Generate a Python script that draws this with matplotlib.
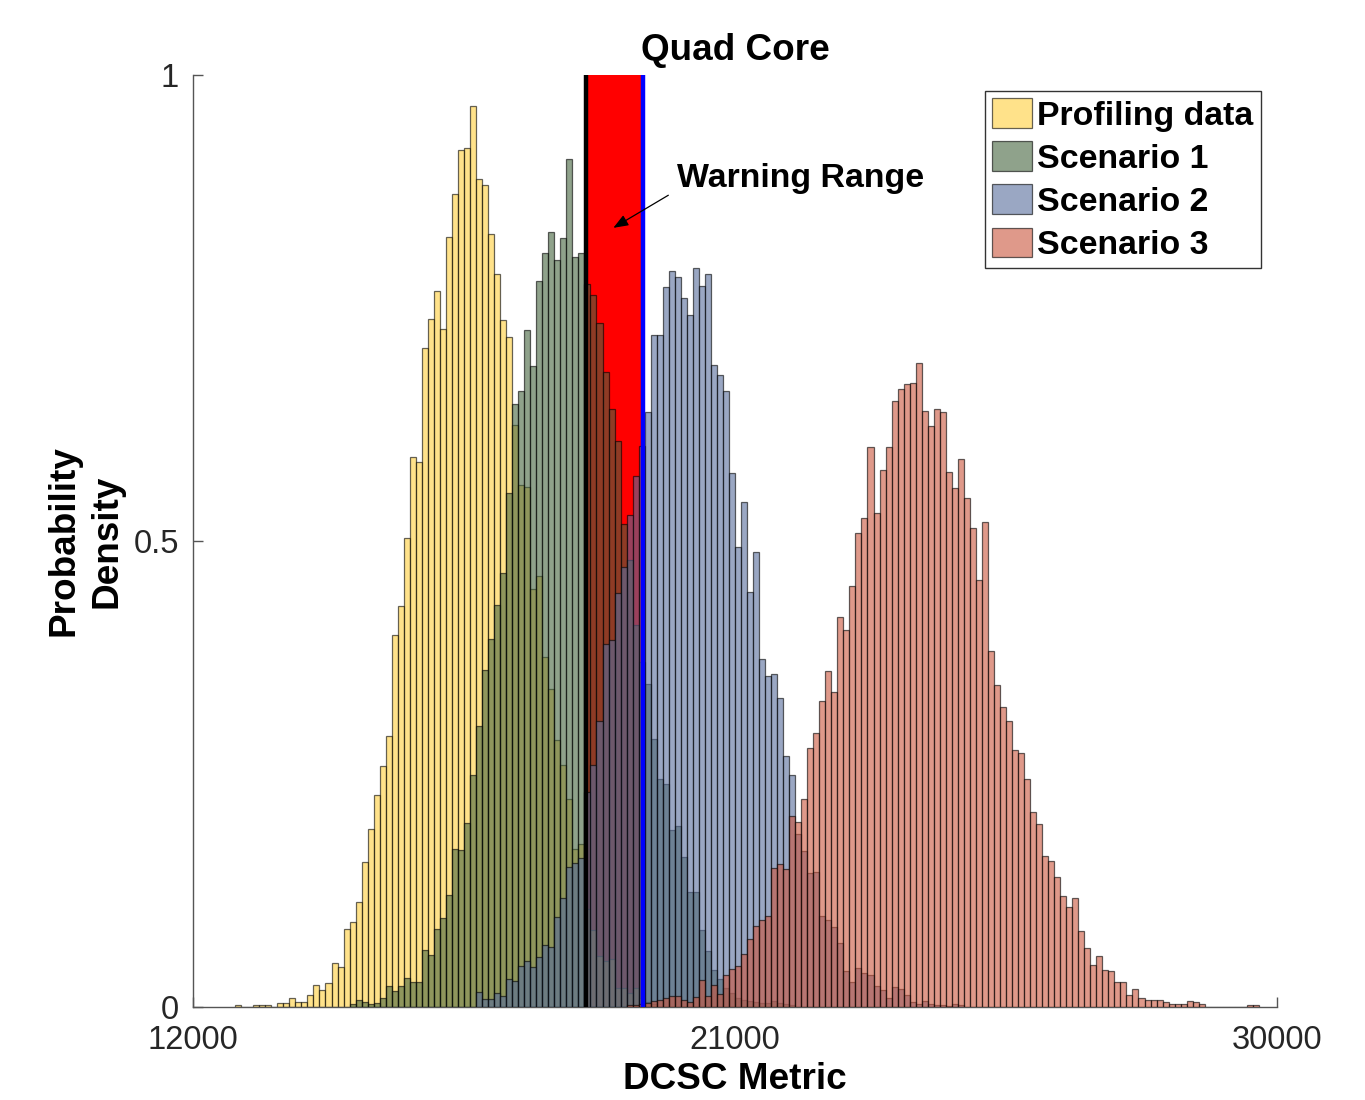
import numpy as np
import matplotlib
matplotlib.use("Agg")
import matplotlib.pyplot as plt
from matplotlib.patches import Rectangle

plt.rcParams['font.family'] = ['Liberation Sans', 'DejaVu Sans']

# ---------------- data (bin width 100, heights) -------------
bin_width = 100

profiling_start = 12700
profiling = [0.002, 0.0, 0.0, 0.002, 0.002, 0.002, 0.0, 0.004, 0.004, 0.010,
             0.005, 0.005, 0.013, 0.024, 0.018, 0.026, 0.047, 0.043, 0.084, 0.091,
             0.113, 0.156, 0.191, 0.228, 0.259, 0.291, 0.399, 0.430, 0.503, 0.590,
             0.585, 0.707, 0.738, 0.768, 0.727, 0.826, 0.872, 0.919, 0.922, 0.967,
             0.888, 0.882, 0.829, 0.787, 0.737, 0.719, 0.625, 0.560, 0.558, 0.449,
             0.462, 0.376, 0.341, 0.286, 0.260, 0.223, 0.170, 0.175, 0.105, 0.083,
             0.055, 0.049, 0.052, 0.020, 0.020, 0.015, 0.020, 0.010, 0.005, 0.003]

scenario1_start = 14600
scenario1 = [0.003, 0.008, 0.005, 0.003, 0.004, 0.010, 0.023, 0.017, 0.023, 0.031,
             0.027, 0.027, 0.061, 0.056, 0.084, 0.096, 0.120, 0.170, 0.168, 0.197,
             0.249, 0.302, 0.362, 0.395, 0.431, 0.466, 0.551, 0.647, 0.661, 0.726,
             0.688, 0.779, 0.809, 0.832, 0.801, 0.825, 0.910, 0.805, 0.809, 0.776,
             0.764, 0.734, 0.681, 0.642, 0.607, 0.518, 0.480, 0.410, 0.370, 0.347,
             0.288, 0.245, 0.239, 0.190, 0.194, 0.161, 0.123, 0.123, 0.083, 0.060,
             0.040, 0.030, 0.020, 0.015, 0.010, 0.008, 0.006, 0.005, 0.004, 0.004,
             0.006, 0.004, 0.003, 0.002]

scenario2_start = 16700
scenario2 = [0.016, 0.009, 0.009, 0.015, 0.012, 0.030, 0.028, 0.044, 0.049, 0.043,
             0.054, 0.067, 0.064, 0.097, 0.117, 0.150, 0.155, 0.160, 0.231, 0.260,
             0.307, 0.390, 0.394, 0.444, 0.472, 0.528, 0.570, 0.602, 0.638, 0.721,
             0.721, 0.772, 0.790, 0.783, 0.761, 0.742, 0.793, 0.774, 0.786, 0.689,
             0.678, 0.661, 0.573, 0.494, 0.542, 0.445, 0.488, 0.373, 0.355, 0.357,
             0.332, 0.269, 0.249, 0.186, 0.167, 0.144, 0.145, 0.098, 0.093, 0.086,
             0.069, 0.039, 0.027, 0.042, 0.036, 0.034, 0.023, 0.018, 0.010, 0.021,
             0.019, 0.013, 0.005, 0.003, 0.006, 0.003, 0.002, 0.002, 0.001, 0.003,
             0.002]

scenario3_start = 19200
scenario3 = [0.002, 0.002, 0.003, 0.004, 0.006, 0.008, 0.010, 0.012, 0.012, 0.008,
             0.005, 0.011, 0.029, 0.012, 0.024, 0.014, 0.034, 0.041, 0.044, 0.057,
             0.073, 0.087, 0.093, 0.098, 0.149, 0.153, 0.148, 0.205, 0.198, 0.223,
             0.278, 0.294, 0.328, 0.361, 0.338, 0.418, 0.405, 0.452, 0.509, 0.525,
             0.601, 0.530, 0.576, 0.601, 0.650, 0.663, 0.668, 0.669, 0.691, 0.639,
             0.623, 0.642, 0.638, 0.574, 0.557, 0.588, 0.546, 0.514, 0.458, 0.520,
             0.382, 0.346, 0.322, 0.307, 0.276, 0.272, 0.245, 0.209, 0.196, 0.162,
             0.157, 0.139, 0.119, 0.107, 0.117, 0.082, 0.063, 0.045, 0.055, 0.040,
             0.039, 0.027, 0.027, 0.013, 0.019, 0.010, 0.008, 0.007, 0.007, 0.005,
             0.003, 0.003, 0.003, 0.006, 0.005, 0.003, 0.0, 0.0, 0.0, 0.0,
             0.0, 0.0, 0.0, 0.002, 0.002]

series_labels = ["Profiling data", "Scenario 1", "Scenario 2", "Scenario 3"]
series_colors = ["#FFD03C", "#44643E", "#576C9B", "#CB553C"]

warning_low = 18520
warning_high = 19475

x_ticks = [12000, 21000, 30000]
y_ticks = [0, 0.5, 1]
y_tick_labels = ["0", "0.5", "1"]

# ---------------- figure ----------------
fig = plt.figure(figsize=(13.65, 11.0), dpi=100)
ax = fig.add_axes([193 / 1365, 93 / 1100, 1084 / 1365, 932 / 1100])

# warning range
ax.add_patch(Rectangle((warning_low, 0), warning_high - warning_low, 1,
                       facecolor="#FF0000", edgecolor="none", zorder=1))

series = [(profiling_start, profiling), (scenario1_start, scenario1),
          (scenario2_start, scenario2), (scenario3_start, scenario3)]
for i, ((start, vals), lab, col) in enumerate(zip(series, series_labels, series_colors)):
    lefts = start + bin_width * np.arange(len(vals))
    face = matplotlib.colors.to_rgba(col, 0.6)
    ax.bar(lefts, vals, width=bin_width, align="edge", facecolor=face,
           edgecolor=(0, 0, 0, 0.6), linewidth=0.9, label=lab, zorder=2 + i)

ax.plot([warning_low, warning_low], [0, 1], color="black", lw=3.2, zorder=10,
        solid_capstyle="butt")
ax.plot([warning_high, warning_high], [0, 1], color="#0000FF", lw=3.2, zorder=10,
        solid_capstyle="butt")

ax.annotate("", xy=(18980, 0.836), xytext=(19893, 0.871),
            arrowprops=dict(arrowstyle="-|>,head_length=0.9,head_width=0.35",
                            color="black", lw=0.9, shrinkA=0, shrinkB=0), zorder=12)
ax.text(20030, 0.889, "Warning Range", fontsize=24.4, fontweight="bold",
        ha="left", va="center", zorder=12)

ax.set_xlim(12000, 30000)
ax.set_ylim(0, 1)
ax.set_xticks(x_ticks)
ax.set_xticklabels([str(t) for t in x_ticks])
ax.set_yticks(y_ticks)
ax.set_yticklabels(y_tick_labels)

axis_col = "#555555"
for s in ["top", "right"]:
    ax.spines[s].set_visible(False)
for s in ["left", "bottom"]:
    ax.spines[s].set_color(axis_col)
    ax.spines[s].set_linewidth(1.0)
ax.tick_params(direction="in", length=7, width=1.0, color=axis_col,
               labelsize=23.5, labelcolor="#262626")
ax.tick_params(axis="x", pad=13)
ax.tick_params(axis="y", pad=10)

ax.set_title("Quad Core", fontsize=26.6, fontweight="bold", y=1.016, pad=0)
ax.set_xlabel("DCSC Metric", fontsize=26.6, fontweight="bold")
ax.xaxis.set_label_coords(0.5, -0.059)
ax.xaxis.label.set_va("top")
ax.set_ylabel("Probability\nDensity", fontsize=26.6, fontweight="bold",
              multialignment="center", linespacing=1.3)
ax.yaxis.set_label_coords(-0.063, 0.5)

leg = ax.legend(loc="upper right", bbox_to_anchor=(0.985, 0.983), borderaxespad=0,
                prop={"size": 24.4, "weight": "bold"}, handlelength=1.18,
                handleheight=0.95, handletextpad=0.15, labelspacing=0.29,
                borderpad=0.22, fancybox=False, framealpha=1)
leg.get_frame().set_edgecolor("#333333")
leg.get_frame().set_linewidth(1.0)
leg.set_zorder(20)

fig.savefig("out.png", dpi=100)
